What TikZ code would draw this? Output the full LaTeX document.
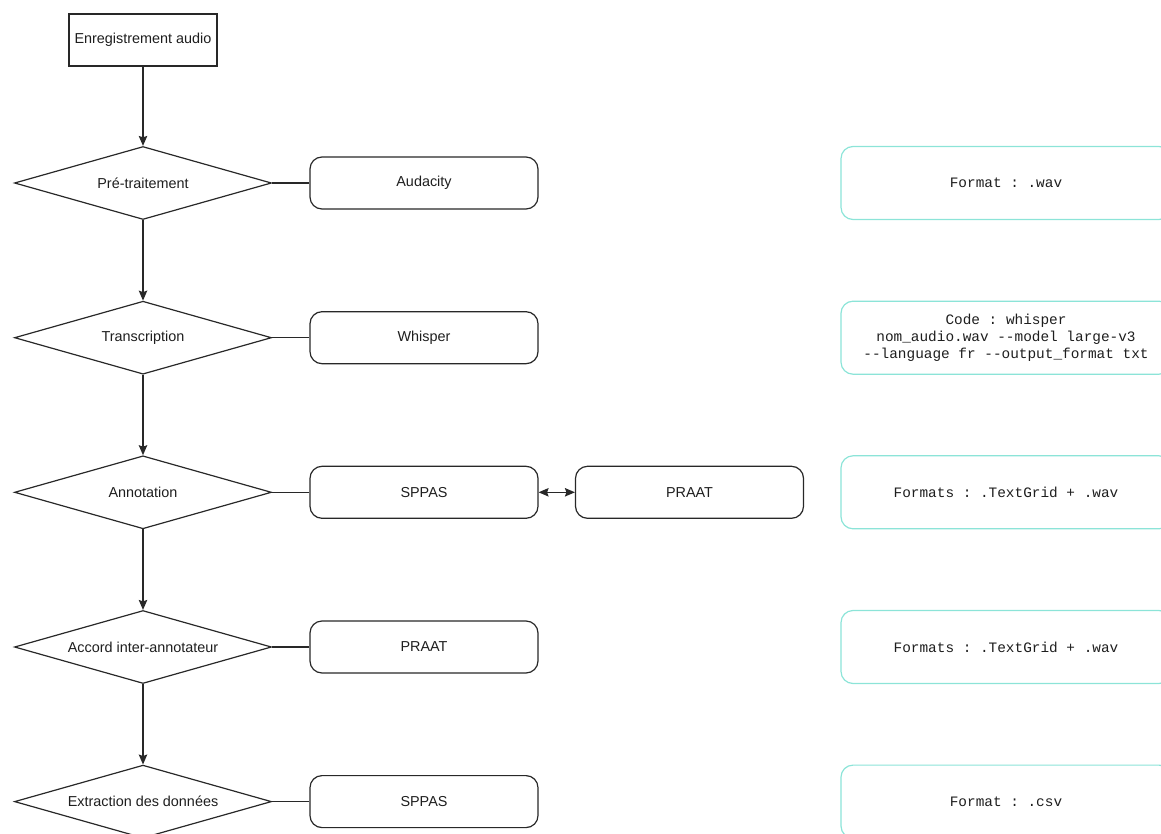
\documentclass[tikz,border=0pt]{standalone}
\usepackage{fontspec}
\setmainfont{Liberation Sans}
\setmonofont{Liberation Mono}
\usetikzlibrary{shapes.geometric,arrows.meta}
\definecolor{cyanline}{RGB}{140,228,216}
\definecolor{txt}{RGB}{30,30,30}
\definecolor{edge}{RGB}{40,40,40}
\begin{document}
\begin{tikzpicture}[x=1pt,y=-1pt,
  every node/.style={font=\fontsize{14.4}{17.3}\selectfont, text=txt},
  startbox/.style={draw=edge, minimum width=148pt, minimum height=52pt, line width=1.2pt},
  dia/.style={draw=edge, shape=diamond, aspect=3.52, minimum width=257pt, minimum height=73pt, inner sep=0pt, line width=1.2pt},
  tool/.style={draw=edge, rounded corners=12pt, minimum width=228pt, minimum height=52pt, line width=1.2pt},
  fmt/.style={draw=cyanline, rounded corners=12pt, minimum width=330pt, minimum height=73pt, line width=1.2pt, align=center, font=\ttfamily\fontsize{14.4}{17.3}\selectfont},
  arr/.style={-{Stealth[length=10pt,width=8.5pt,inset=1.5pt]}, line width=1.2pt, draw=edge},
  dbl/.style={{Stealth[length=10pt,width=8.5pt,inset=1.5pt]}-{Stealth[length=10pt,width=8.5pt,inset=1.5pt]}, line width=1.2pt, draw=edge},
  link/.style={line width=1.2pt, draw=edge},
]
\path[use as bounding box] (0,0) rectangle (1161,834);
\clip (0,0) rectangle (1161,834);

\node[startbox] (start) at (143,40) {Enregistrement audio};

\node[dia] (d1) at (143,183) {Pré-traitement};
\node[dia] (d2) at (143,337.7) {Transcription};
\node[dia] (d3) at (143,492.3) {Annotation};
\node[dia] (d4) at (143,647) {Accord inter-annotateur};
\node[dia] (d5) at (143,801.6) {Extraction des données};

\node[tool] (t1) at (424,183) {Audacity};
\node[tool] (t2) at (424,337.7) {Whisper};
\node[tool] (t3) at (424,492.3) {SPPAS};
\node[tool] (t3b) at (689.5,492.3) {PRAAT};
\node[tool] (t4) at (424,647) {PRAAT};
\node[tool] (t5) at (424,801.6) {SPPAS};

\node[fmt] (f1) at (1006,183) {Format : .wav};
\node[fmt] (f2) at (1006,337.7) {Code : whisper\\nom\_audio.wav -{}-model large-v3\\-{}-language fr -{}-output\_format txt};
\node[fmt] (f3) at (1006,492.3) {Formats : .TextGrid + .wav};
\node[fmt] (f4) at (1006,647) {Formats : .TextGrid + .wav};
\node[fmt] (f5) at (1006,801.6) {Format : .csv};

\draw[arr] (start.south) -- (d1.north);
\draw[arr] (d1.south) -- (d2.north);
\draw[arr] (d2.south) -- (d3.north);
\draw[arr] (d3.south) -- (d4.north);
\draw[arr] (d4.south) -- (d5.north);

\draw[link] (d1.east) -- (t1.west);
\draw[link] (d2.east) -- (t2.west);
\draw[link] (d3.east) -- (t3.west);
\draw[link] (d4.east) -- (t4.west);
\draw[link] (d5.east) -- (t5.west);

\draw[dbl] (t3.east) -- (t3b.west);
\end{tikzpicture}
\end{document}
